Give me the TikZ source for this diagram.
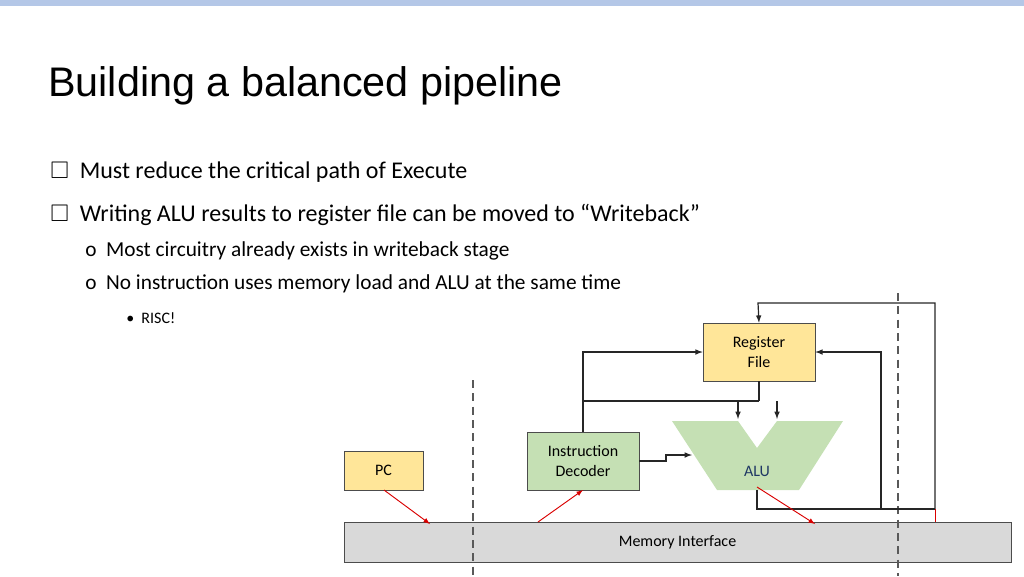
\documentclass[tikz,border=0pt]{standalone}
\usepackage{fontspec}
\usepackage{amssymb}
\usepackage{xcolor}
\setmainfont{Carlito}
\newfontfamily\titlefont{Liberation Sans}
\definecolor{rfyellow}{RGB}{255,230,153}
\definecolor{idgreen}{RGB}{197,224,180}
\definecolor{alugreen}{RGB}{197,224,180}
\definecolor{memgray}{RGB}{217,217,217}
\definecolor{topbar}{RGB}{180,199,231}
\definecolor{alublue}{RGB}{31,56,100}
\usetikzlibrary{positioning}

\begin{document}
\begin{tikzpicture}[x=0.75pt,y=0.75pt,yscale=-1,xscale=1,
  blk/.style={draw=black!70,inner sep=0.75pt,align=center,font=\fontsize{12}{14.5}\selectfont},
  wire/.style={draw=black!85,line width=0.9pt},
  arr/.style={wire,-latex},
  redarr/.style={draw=red!85!black,line width=0.7pt,-latex},
  stageline/.style={draw=black!65,line width=1.2pt,dash pattern=on 6pt off 4pt}]

\useasboundingbox (0,0) rectangle (1024,576);
\fill[topbar] (0,0) rectangle (1024,6);

% title and bullets
\draw (48,86) node [anchor=west,inner sep=0pt] {\titlefont\fontsize{31}{36}\selectfont Building a balanced pipeline};
\draw (50,172) node [anchor=west,inner sep=0pt] {\fontsize{18}{22}\selectfont $\square$\ \ Must reduce the critical path of Execute};
\draw (50,215) node [anchor=west,inner sep=0pt] {\fontsize{18}{22}\selectfont $\square$\ \ Writing ALU results to register file can be moved to ``Writeback''};
\draw (85,251) node [anchor=west,inner sep=0pt] {\fontsize{16}{20}\selectfont o\ \ Most circuitry already exists in writeback stage};
\draw (85,284) node [anchor=west,inner sep=0pt] {\fontsize{16}{20}\selectfont o\ \ No instruction uses memory load and ALU at the same time};
\draw (126,318) node [anchor=west,inner sep=0pt] {\fontsize{12}{14}\selectfont \textbullet\ \ RISC!};

% blocks
\node [blk,fill=memgray,minimum width=667*0.75pt,minimum height=40*0.75pt] (mem) at (677.5,542) {Memory Interface};
\node [blk,fill=rfyellow,minimum width=112*0.75pt,minimum height=58*0.75pt] (rf) at (759,352) {Register\\File};
\node [blk,fill=idgreen,minimum width=112*0.75pt,minimum height=58*0.75pt] (id) at (583,461) {Instruction\\Decoder};
\node [blk,fill=rfyellow,minimum width=79*0.75pt,minimum height=39*0.75pt] (pc) at (383.5,470.5) {PC};

\fill[alugreen] (672,421) -- (738,421) -- (757,448) -- (777,421) -- (843,421) -- (799,490) -- (717,490) -- cycle;
\node [inner sep=0pt,text=alublue,font=\fontsize{12}{14}\selectfont] (alu) at (757,471) {ALU};

% dashed stage boundaries
\draw[stageline] (473,380) -- (473,576);
\draw[stageline] (898,293) -- (898,576);

% wires
\coordinate (split) at (759,401);
\draw[wire] (rf.south) -- (split);
\draw[arr] (738,401) -- (738,419);
\draw[arr] (777,401) -- (777,419);
\draw[wire] (id.north) |- (split);
\draw[arr] (id.north) |- (rf.west);
\draw[arr] (id.east) -- (666,461) -- (666,455) -- (692,455);
\draw[wire] (757,490) -- (757,509) -- (935,509);
\draw[arr] (881,509) |- (rf.east);
\draw[arr] (935,509) -- (935,303) -- (758,303) -- (rf.north);
\draw[draw=red!85!black,line width=0.7pt] (935,509) -- (935,522);

% memory accesses
\draw[redarr] (384,490) -- (430,524);
\draw[redarr] (538,522) -- (583,490);
\draw[redarr] (757,487) -- (815,524);
\end{tikzpicture}
\end{document}
